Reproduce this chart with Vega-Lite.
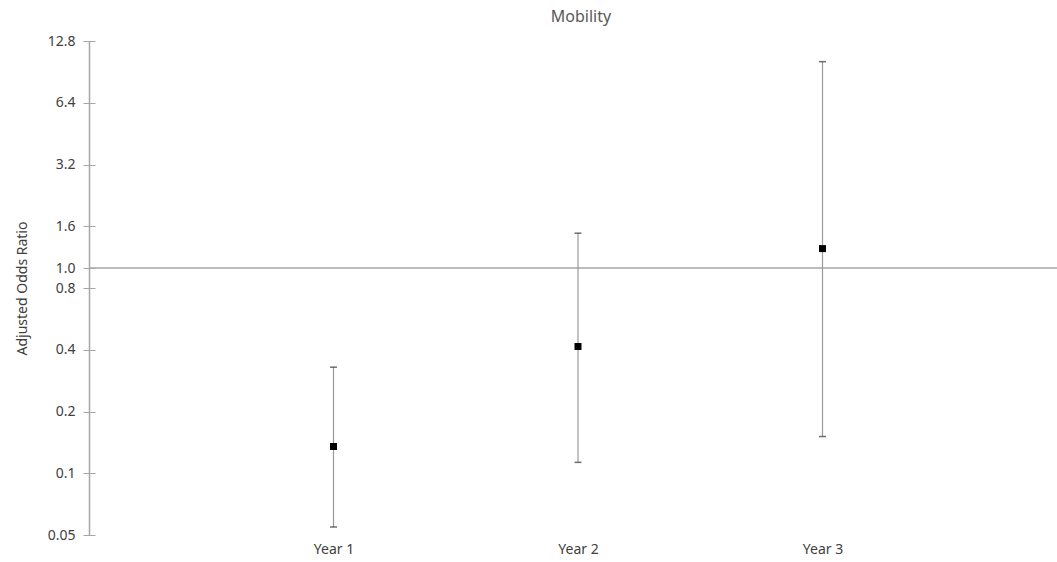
{
  "$schema": "https://vega.github.io/schema/vega-lite/v6.json",
  "width": 968,
  "height": 494,
  "autosize": {"type": "none"},
  "padding": {"left": 89, "top": 41, "right": 0, "bottom": 27},
  "background": "white",
  "title": {
    "text": "Mobility",
    "font": "Noto Sans",
    "fontSize": 16,
    "fontWeight": "normal",
    "color": "#595959",
    "offset": 9,
    "dx": 8
  },
  "datasets": {
    "estimates": [
      {"period": "Year 1", "aor": 0.135, "lo": 0.0547, "hi": 0.329},
      {"period": "Year 2", "aor": 0.415, "lo": 0.113, "hi": 1.48},
      {"period": "Year 3", "aor": 1.245, "lo": 0.151, "hi": 10.15}
    ],
    "reference": [{"ref": 1}]
  },
  "resolve": {"axis": {"y": "independent"}},
  "layer": [
    {
      "data": {"name": "reference"},
      "mark": {"type": "rule", "color": "#a6a6a6", "strokeWidth": 1.5},
      "encoding": {
        "y": {
          "field": "ref",
          "type": "quantitative",
          "scale": {"type": "log", "domain": [0.05, 12.8], "nice": false},
          "axis": {
            "orient": "left",
            "domain": true,
            "domainColor": "#a6a6a6",
            "domainWidth": 1.5,
            "ticks": false,
            "labels": false,
            "grid": false,
            "title": null
          }
        }
      }
    },
    {
      "data": {"name": "estimates"},
      "mark": {"type": "rule", "color": "#9a9a9a", "strokeWidth": 1.2},
      "encoding": {
        "x": {"field": "period", "type": "nominal", "sort": null, "scale": {"type": "point", "padding": 1, "range": [0, 978]}},
        "y": {"field": "lo", "type": "quantitative", "axis": null},
        "y2": {"field": "hi"}
      }
    },
    {
      "data": {"name": "estimates"},
      "mark": {"type": "tick", "color": "#333333", "size": 7, "thickness": 1.5},
      "encoding": {
        "x": {"field": "period", "type": "nominal", "sort": null},
        "y": {"field": "lo", "type": "quantitative", "axis": null}
      }
    },
    {
      "data": {"name": "estimates"},
      "mark": {"type": "tick", "color": "#333333", "size": 7, "thickness": 1.5},
      "encoding": {
        "x": {"field": "period", "type": "nominal", "sort": null},
        "y": {"field": "hi", "type": "quantitative", "axis": null}
      }
    },
    {
      "data": {"name": "estimates"},
      "mark": {"type": "square", "color": "black", "filled": true, "opacity": 1, "size": 49},
      "encoding": {
        "x": {"field": "period", "type": "nominal", "sort": null},
        "y": {
          "field": "aor",
          "type": "quantitative",
          "axis": {
            "orient": "left",
            "offset": -6,
            "domain": false,
            "tickSize": 12,
            "tickColor": "#a6a6a6",
            "tickWidth": 1,
            "grid": false,
            "values": [0.05, 0.1, 0.2, 0.4, 0.8, 1, 1.6, 3.2, 6.4, 12.8],
            "labelExpr": "datum.value < 0.075 ? '0.05' : format(datum.value, '.1f')",
            "labelPadding": 8,
            "labelFontSize": 14,
            "labelColor": "#404040",
            "title": "Adjusted Odds Ratio",
            "titleFontSize": 14,
            "titleFontWeight": "normal",
            "titleColor": "#404040",
            "titlePadding": 18
          }
        }
      }
    }
  ],
  "config": {
    "font": "Noto Sans",
    "view": {"stroke": null},
    "axisX": {
      "domain": false,
      "ticks": false,
      "grid": false,
      "labelAngle": 0,
      "labelFontSize": 14,
      "labelColor": "#404040",
      "labelPadding": 7,
      "title": null
    }
  }
}
